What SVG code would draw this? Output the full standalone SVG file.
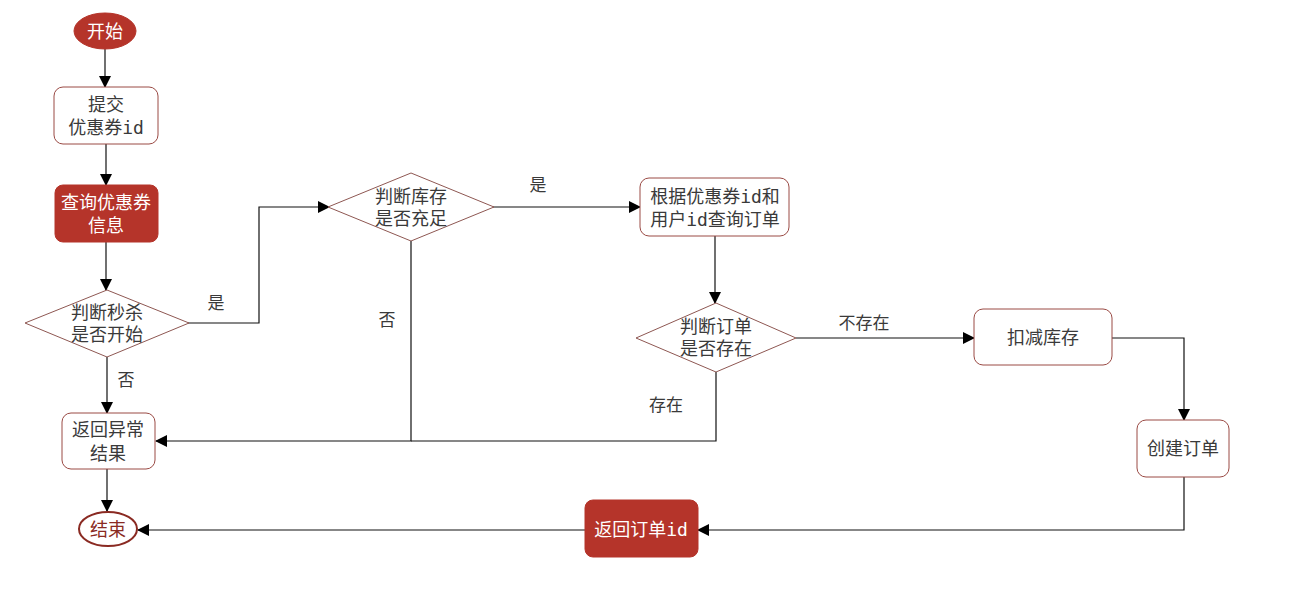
<svg xmlns="http://www.w3.org/2000/svg" width="1303" height="589" viewBox="0 0 1303 589">
<style>
text{font-family:"DejaVu Sans Mono","Noto Sans CJK SC",monospace;font-size:18px;fill:#3a3a3a;text-anchor:middle;dominant-baseline:central}
.w{fill:#ffffff}
.endt{fill:#8a2a22}
.lbl{font-size:17px}
.box{fill:#ffffff;stroke:#9a4a44;stroke-width:1}
.red{fill:#b5342a;stroke:#b5342a;stroke-width:1}
.dia{fill:#ffffff;stroke:#8e5752;stroke-width:1}
.edge{fill:none;stroke:#111;stroke-width:1.2}
</style>
<defs>
<marker id="ah" markerWidth="12" markerHeight="12" refX="11" refY="6" orient="auto" markerUnits="userSpaceOnUse">
<path d="M0,0 L12,6 L0,12 Z" fill="#000"/>
</marker>
</defs>
<rect width="1303" height="589" fill="#ffffff"/>
<g id="connectors">
<path class="edge" d="M105,49 L105,87" marker-end="url(#ah)"/>
<path class="edge" d="M106,144 L106,185" marker-end="url(#ah)"/>
<path class="edge" d="M106,242 L106,290" marker-end="url(#ah)"/>
<path class="edge" d="M188,323 L259,323 L259,207 L329,207" marker-end="url(#ah)"/>
<path class="edge" d="M107,357 L107,413" marker-end="url(#ah)"/>
<path class="edge" d="M493,207 L640,207" marker-end="url(#ah)"/>
<path class="edge" d="M411,241 L411,441 L156,441" marker-end="url(#ah)"/>
<path class="edge" d="M715,236 L715,303" marker-end="url(#ah)"/>
<path class="edge" d="M716,372 L716,441 L411,441"/>
<path class="edge" d="M796,338 L974,338" marker-end="url(#ah)"/>
<path class="edge" d="M1112,338 L1184,338 L1184,420" marker-end="url(#ah)"/>
<path class="edge" d="M1184,477 L1184,530 L698,530" marker-end="url(#ah)"/>
<path class="edge" d="M585,530 L138,530" marker-end="url(#ah)"/>
<path class="edge" d="M107,469 L107,511" marker-end="url(#ah)"/>
<text class="lbl" x="216" y="303">是</text>
<text class="lbl" x="126" y="380">否</text>
<text class="lbl" x="538" y="185">是</text>
<text class="lbl" x="387" y="320">否</text>
<text class="lbl" x="864" y="323">不存在</text>
<text class="lbl" x="666" y="405">存在</text>
</g>
<g id="start">
<ellipse class="red" cx="105" cy="31" rx="31" ry="18"/>
<text class="w" x="105" y="31">开始</text>
</g>
<g id="submit">
<rect class="box" x="54" y="87" width="104" height="57" rx="9"/>
<text x="106" y="104">提交</text>
<text x="106" y="127">优惠券id</text>
</g>
<g id="query">
<rect class="red" x="55" y="185" width="103" height="57" rx="8"/>
<text class="w" x="106" y="202">查询优惠券</text>
<text class="w" x="106" y="225">信息</text>
</g>
<g id="check-start">
<polygon class="dia" points="25,323 107,290 189,323 107,357"/>
<text x="107" y="312">判断秒杀</text>
<text x="107" y="334">是否开始</text>
</g>
<g id="check-stock">
<polygon class="dia" points="328,207 411,173 494,207 411,241"/>
<text x="411" y="196">判断库存</text>
<text x="411" y="218">是否充足</text>
</g>
<g id="query-order">
<rect class="box" x="640" y="178" width="149" height="58" rx="9"/>
<text x="715" y="196">根据优惠券id和</text>
<text x="715" y="219">用户id查询订单</text>
</g>
<g id="check-order">
<polygon class="dia" points="636,338 716,303 796,338 716,372"/>
<text x="716" y="326">判断订单</text>
<text x="716" y="348">是否存在</text>
</g>
<g id="deduct">
<rect class="box" x="974" y="309" width="138" height="56" rx="9"/>
<text x="1043" y="337">扣减库存</text>
</g>
<g id="create-order">
<rect class="box" x="1137" y="420" width="92" height="57" rx="9"/>
<text x="1183" y="448">创建订单</text>
</g>
<g id="return-id">
<rect class="red" x="585" y="500" width="113" height="57" rx="8"/>
<text class="w" x="641" y="529">返回订单id</text>
</g>
<g id="return-error">
<rect class="box" x="62" y="413" width="93" height="56" rx="9"/>
<text x="108" y="429">返回异常</text>
<text x="108" y="453">结果</text>
</g>
<g id="end">
<ellipse cx="108" cy="529" rx="29" ry="17" fill="#ffffff" stroke="#8a2a22" stroke-width="2"/>
<text class="endt" x="108" y="529">结束</text>
</g>
</svg>
